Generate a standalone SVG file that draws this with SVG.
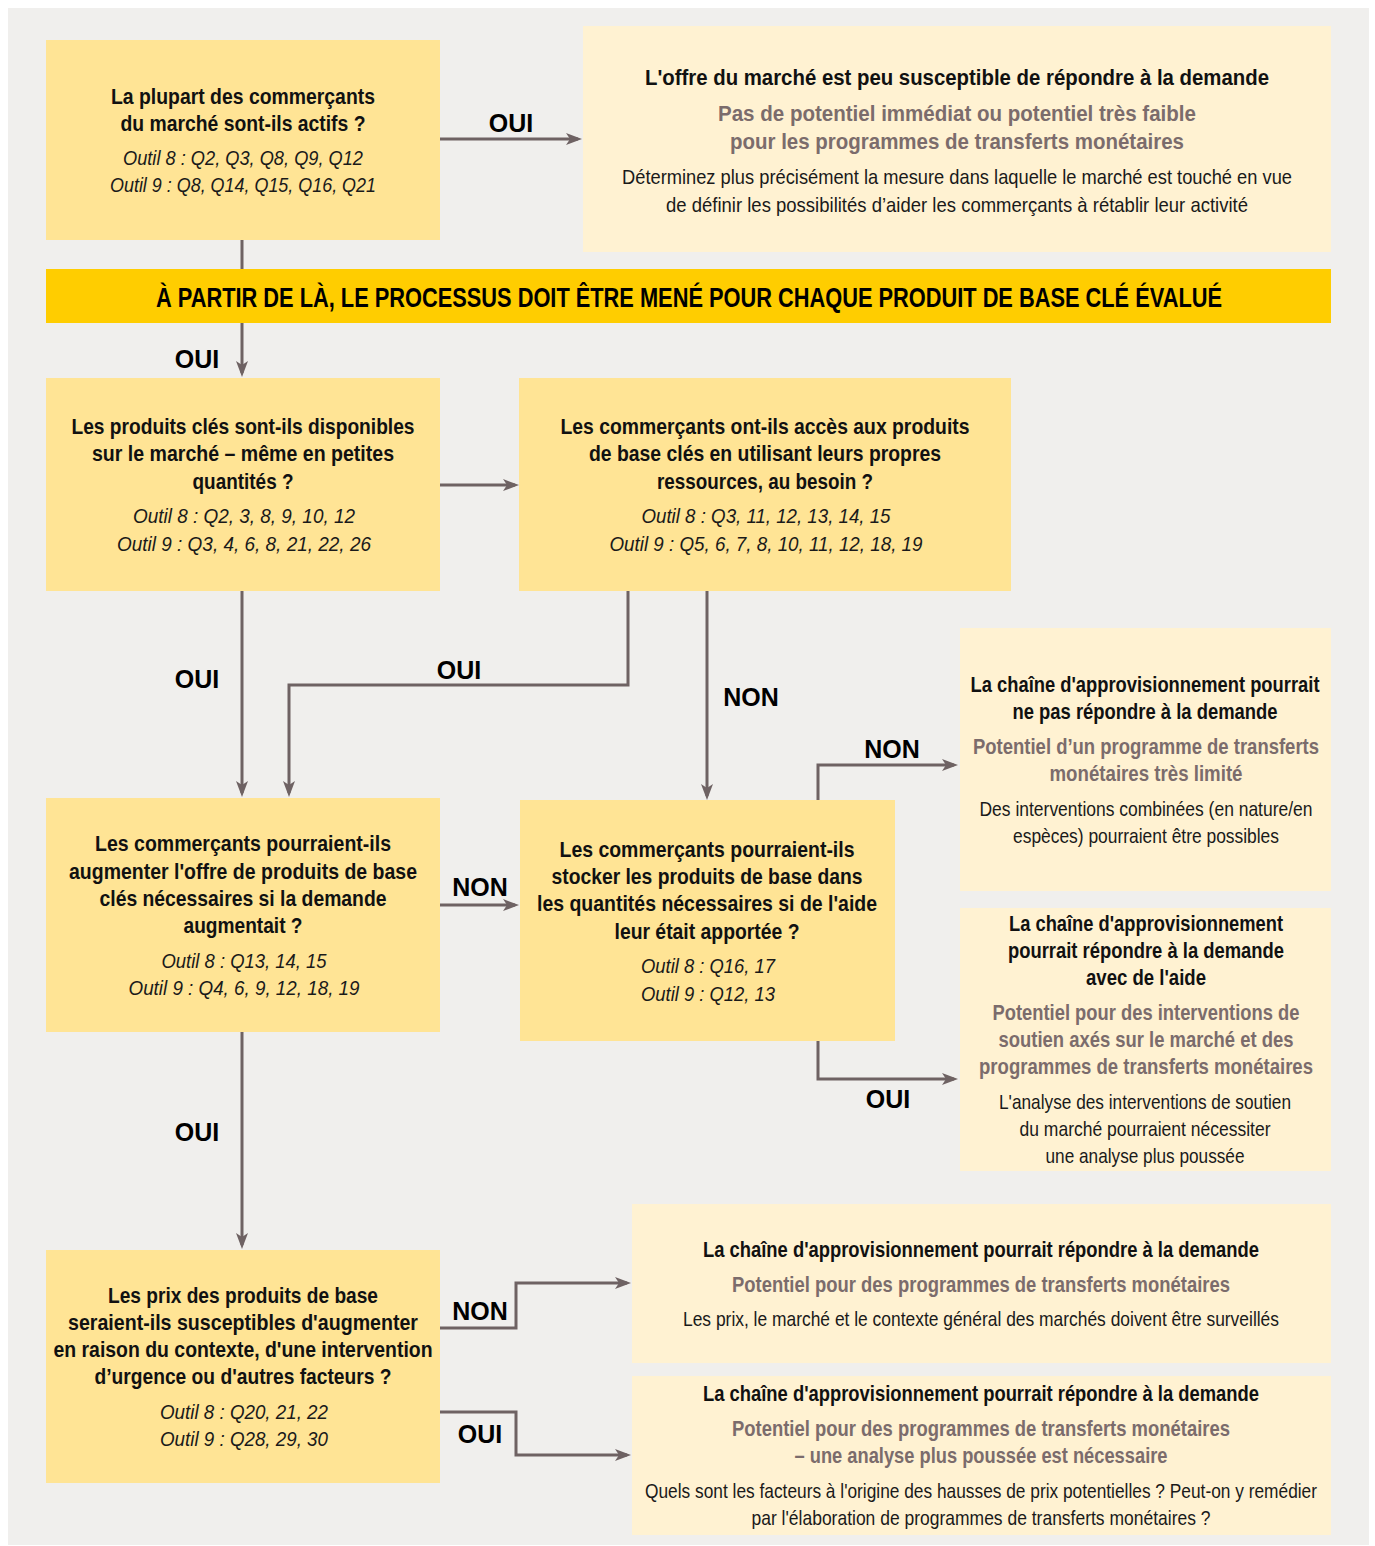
<svg xmlns="http://www.w3.org/2000/svg" width="1375" height="1546" viewBox="0 0 1375 1546">
  <style>
    text { font-family: "Liberation Sans Narrow", "Liberation Sans", Arial, sans-serif; text-anchor: middle; }
    .q { fill: #FFE495; }
    .r { fill: #FFF2D2; }
    .b { font-weight: bold; font-size: 22px; fill: #111; }
    .g { font-weight: bold; font-size: 22px; fill: #7B6C6C; }
    .n { font-size: 21px; fill: #1a1a1a; }
    .i { font-style: italic; font-size: 21px; fill: #1a1a1a; }
    .lbl { font-family: "Liberation Sans", Arial, sans-serif; font-weight: bold; font-size: 25px; fill: #000; }
    .ban { font-weight: bold; font-size: 27px; fill: #000; }
    .wire { fill: none; stroke: #6E6263; stroke-width: 3; marker-end: url(#head); }
  </style>
  <defs>
    <marker id="head" viewBox="0 0 16 12" markerWidth="16" markerHeight="12" markerUnits="userSpaceOnUse" refX="12" refY="6" orient="auto">
      <path d="M0,0 L16,6 L0,12 L4,6 z" fill="#6E6263"/>
    </marker>
  </defs>

  <rect x="0" y="0" width="1375" height="1546" fill="#fff"/>
  <rect x="8" y="8" width="1361" height="1537" fill="#F0EFED"/>

  <!-- connectors -->
  <g id="connectors">
    <path class="wire" d="M440,139 H578"/>
    <path class="wire" d="M242,240 V373"/>
    <path class="wire" d="M440,485 H515"/>
    <path class="wire" d="M242,591 V793"/>
    <path class="wire" d="M628,591 V685 H289 V793"/>
    <path class="wire" d="M707,591 V796"/>
    <path class="wire" d="M440,905 H515"/>
    <path class="wire" d="M818,800 V765 H954"/>
    <path class="wire" d="M818,1041 V1079 H954"/>
    <path class="wire" d="M242,1032 V1245"/>
    <path class="wire" d="M440,1328 H516 V1283 H627"/>
    <path class="wire" d="M440,1412 H516 V1455 H627"/>
    <g id="labels">
      <text class="lbl" x="511" y="132">OUI</text>
      <text class="lbl" x="197" y="368">OUI</text>
      <text class="lbl" x="197" y="688">OUI</text>
      <text class="lbl" x="459" y="679">OUI</text>
      <text class="lbl" x="751" y="706">NON</text>
      <text class="lbl" x="480" y="896">NON</text>
      <text class="lbl" x="892" y="758">NON</text>
      <text class="lbl" x="888" y="1108">OUI</text>
      <text class="lbl" x="197" y="1141">OUI</text>
      <text class="lbl" x="480" y="1320">NON</text>
      <text class="lbl" x="480" y="1443">OUI</text>
    </g>
  </g>

  <!-- question: traders active -->
  <g id="q-actifs">
    <rect class="q" x="46" y="40" width="394" height="200"/>
    <text class="b" x="243" y="104" textLength="264" lengthAdjust="spacingAndGlyphs">La plupart des commerçants</text>
    <text class="b" x="243" y="131" textLength="245" lengthAdjust="spacingAndGlyphs">du marché sont-ils actifs ?</text>
    <text class="i" x="243" y="165" textLength="240" lengthAdjust="spacingAndGlyphs">Outil 8 : Q2, Q3, Q8, Q9, Q12</text>
    <text class="i" x="243" y="192" textLength="266" lengthAdjust="spacingAndGlyphs">Outil 9 : Q8, Q14, Q15, Q16, Q21</text>
  </g>

  <!-- outcome: market supply unlikely -->
  <g id="r-offre">
    <rect class="r" x="583" y="26" width="748" height="226"/>
    <text class="b" x="957" y="85" textLength="624" lengthAdjust="spacingAndGlyphs">L'offre du marché est peu susceptible de répondre à la demande</text>
    <text class="g" x="957" y="121" textLength="478" lengthAdjust="spacingAndGlyphs">Pas de potentiel immédiat ou potentiel très faible</text>
    <text class="g" x="957" y="149" textLength="454" lengthAdjust="spacingAndGlyphs">pour les programmes de transferts monétaires</text>
    <text class="n" x="957" y="184" textLength="670" lengthAdjust="spacingAndGlyphs">Déterminez plus précisément la mesure dans laquelle le marché est touché en vue</text>
    <text class="n" x="957" y="212" textLength="582" lengthAdjust="spacingAndGlyphs">de définir les possibilités d’aider les commerçants à rétablir leur activité</text>
  </g>

  <!-- banner -->
  <g id="banner">
    <rect x="46" y="269" width="1285" height="54" fill="#FFCD00"/>
    <text class="ban" x="689" y="307" textLength="1066" lengthAdjust="spacingAndGlyphs">À PARTIR DE LÀ, LE PROCESSUS DOIT ÊTRE MENÉ POUR CHAQUE PRODUIT DE BASE CLÉ ÉVALUÉ</text>
  </g>

  <!-- question: products available -->
  <g id="q-disponibles">
    <rect class="q" x="46" y="378" width="394" height="213"/>
    <text class="b" x="243" y="434" textLength="343" lengthAdjust="spacingAndGlyphs">Les produits clés sont-ils disponibles</text>
    <text class="b" x="243" y="461" textLength="302" lengthAdjust="spacingAndGlyphs">sur le marché – même en petites</text>
    <text class="b" x="243" y="489" textLength="101" lengthAdjust="spacingAndGlyphs">quantités ?</text>
    <text class="i" x="244" y="523" textLength="222" lengthAdjust="spacingAndGlyphs">Outil 8 : Q2, 3, 8, 9, 10, 12</text>
    <text class="i" x="244" y="551" textLength="254" lengthAdjust="spacingAndGlyphs">Outil 9 : Q3, 4, 6, 8, 21, 22, 26</text>
  </g>

  <!-- question: access to products -->
  <g id="q-acces">
    <rect class="q" x="519" y="378" width="492" height="213"/>
    <text class="b" x="765" y="434" textLength="409" lengthAdjust="spacingAndGlyphs">Les commerçants ont-ils accès aux produits</text>
    <text class="b" x="765" y="461" textLength="352" lengthAdjust="spacingAndGlyphs">de base clés en utilisant leurs propres</text>
    <text class="b" x="765" y="489" textLength="216" lengthAdjust="spacingAndGlyphs">ressources, au besoin ?</text>
    <text class="i" x="766" y="523" textLength="249" lengthAdjust="spacingAndGlyphs">Outil 8 : Q3, 11, 12, 13, 14, 15</text>
    <text class="i" x="766" y="551" textLength="313" lengthAdjust="spacingAndGlyphs">Outil 9 : Q5, 6, 7, 8, 10, 11, 12, 18, 19</text>
  </g>

  <!-- question: increase supply -->
  <g id="q-augmenter">
    <rect class="q" x="46" y="798" width="394" height="234"/>
    <text class="b" x="243" y="851" textLength="296" lengthAdjust="spacingAndGlyphs">Les commerçants pourraient-ils</text>
    <text class="b" x="243" y="879" textLength="348" lengthAdjust="spacingAndGlyphs">augmenter l'offre de produits de base</text>
    <text class="b" x="243" y="906" textLength="287" lengthAdjust="spacingAndGlyphs">clés nécessaires si la demande</text>
    <text class="b" x="243" y="933" textLength="119" lengthAdjust="spacingAndGlyphs">augmentait ?</text>
    <text class="i" x="244" y="968" textLength="165" lengthAdjust="spacingAndGlyphs">Outil 8 : Q13, 14, 15</text>
    <text class="i" x="244" y="995" textLength="231" lengthAdjust="spacingAndGlyphs">Outil 9 : Q4, 6, 9, 12, 18, 19</text>
  </g>

  <!-- question: stock products -->
  <g id="q-stocker">
    <rect class="q" x="520" y="800" width="375" height="241"/>
    <text class="b" x="707" y="857" textLength="295" lengthAdjust="spacingAndGlyphs">Les commerçants pourraient-ils</text>
    <text class="b" x="707" y="884" textLength="311" lengthAdjust="spacingAndGlyphs">stocker les produits de base dans</text>
    <text class="b" x="707" y="911" textLength="340" lengthAdjust="spacingAndGlyphs">les quantités nécessaires si de l'aide</text>
    <text class="b" x="707" y="939" textLength="185" lengthAdjust="spacingAndGlyphs">leur était apportée ?</text>
    <text class="i" x="708" y="973" textLength="134" lengthAdjust="spacingAndGlyphs">Outil 8 : Q16, 17</text>
    <text class="i" x="708" y="1001" textLength="134" lengthAdjust="spacingAndGlyphs">Outil 9 : Q12, 13</text>
  </g>

  <!-- outcome: supply chain may not meet demand -->
  <g id="r-limite">
    <rect class="r" x="960" y="628" width="371" height="263"/>
    <text class="b" x="1145" y="692" textLength="349" lengthAdjust="spacingAndGlyphs">La chaîne d'approvisionnement pourrait</text>
    <text class="b" x="1145" y="719" textLength="265" lengthAdjust="spacingAndGlyphs">ne pas répondre à la demande</text>
    <text class="g" x="1146" y="754" textLength="346" lengthAdjust="spacingAndGlyphs">Potentiel d’un programme de transferts</text>
    <text class="g" x="1146" y="781" textLength="193" lengthAdjust="spacingAndGlyphs">monétaires très limité</text>
    <text class="n" x="1146" y="816" textLength="333" lengthAdjust="spacingAndGlyphs">Des interventions combinées (en nature/en</text>
    <text class="n" x="1146" y="843" textLength="266" lengthAdjust="spacingAndGlyphs">espèces) pourraient être possibles</text>
  </g>

  <!-- outcome: supply chain could meet demand with help -->
  <g id="r-aide">
    <rect class="r" x="960" y="908" width="371" height="263"/>
    <text class="b" x="1146" y="931" textLength="274" lengthAdjust="spacingAndGlyphs">La chaîne d'approvisionnement</text>
    <text class="b" x="1146" y="958" textLength="276" lengthAdjust="spacingAndGlyphs">pourrait répondre à la demande</text>
    <text class="b" x="1146" y="985" textLength="120" lengthAdjust="spacingAndGlyphs">avec de l'aide</text>
    <text class="g" x="1146" y="1020" textLength="307" lengthAdjust="spacingAndGlyphs">Potentiel pour des interventions de</text>
    <text class="g" x="1146" y="1047" textLength="295" lengthAdjust="spacingAndGlyphs">soutien axés sur le marché et des</text>
    <text class="g" x="1146" y="1074" textLength="334" lengthAdjust="spacingAndGlyphs">programmes de transferts monétaires</text>
    <text class="n" x="1145" y="1109" textLength="292" lengthAdjust="spacingAndGlyphs">L'analyse des interventions de soutien</text>
    <text class="n" x="1145" y="1136" textLength="251" lengthAdjust="spacingAndGlyphs">du marché pourraient nécessiter</text>
    <text class="n" x="1145" y="1163" textLength="199" lengthAdjust="spacingAndGlyphs">une analyse plus poussée</text>
  </g>

  <!-- question: prices likely to rise -->
  <g id="q-prix">
    <rect class="q" x="46" y="1250" width="394" height="233"/>
    <text class="b" x="243" y="1303" textLength="270" lengthAdjust="spacingAndGlyphs">Les prix des produits de base</text>
    <text class="b" x="243" y="1330" textLength="350" lengthAdjust="spacingAndGlyphs">seraient-ils susceptibles d'augmenter</text>
    <text class="b" x="243" y="1357" textLength="379" lengthAdjust="spacingAndGlyphs">en raison du contexte, d'une intervention</text>
    <text class="b" x="243" y="1384" textLength="297" lengthAdjust="spacingAndGlyphs">d’urgence ou d'autres facteurs ?</text>
    <text class="i" x="244" y="1419" textLength="168" lengthAdjust="spacingAndGlyphs">Outil 8 : Q20, 21, 22</text>
    <text class="i" x="244" y="1446" textLength="168" lengthAdjust="spacingAndGlyphs">Outil 9 : Q28, 29, 30</text>
  </g>

  <!-- outcome: prices stable -->
  <g id="r-surveiller">
    <rect class="r" x="632" y="1204" width="699" height="159"/>
    <text class="b" x="981" y="1257" textLength="556" lengthAdjust="spacingAndGlyphs">La chaîne d'approvisionnement pourrait répondre à la demande</text>
    <text class="g" x="981" y="1292" textLength="498" lengthAdjust="spacingAndGlyphs">Potentiel pour des programmes de transferts monétaires</text>
    <text class="n" x="981" y="1326" textLength="596" lengthAdjust="spacingAndGlyphs">Les prix, le marché et le contexte général des marchés doivent être surveillés</text>
  </g>

  <!-- outcome: prices may rise -->
  <g id="r-analyse">
    <rect class="r" x="632" y="1376" width="699" height="159"/>
    <text class="b" x="981" y="1401" textLength="556" lengthAdjust="spacingAndGlyphs">La chaîne d'approvisionnement pourrait répondre à la demande</text>
    <text class="g" x="981" y="1436" textLength="498" lengthAdjust="spacingAndGlyphs">Potentiel pour des programmes de transferts monétaires</text>
    <text class="g" x="981" y="1463" textLength="373" lengthAdjust="spacingAndGlyphs">– une analyse plus poussée est nécessaire</text>
    <text class="n" x="981" y="1498" textLength="672" lengthAdjust="spacingAndGlyphs">Quels sont les facteurs à l'origine des hausses de prix potentielles ? Peut-on y remédier</text>
    <text class="n" x="981" y="1525" textLength="459" lengthAdjust="spacingAndGlyphs">par l'élaboration de programmes de transferts monétaires ?</text>
  </g>
</svg>
